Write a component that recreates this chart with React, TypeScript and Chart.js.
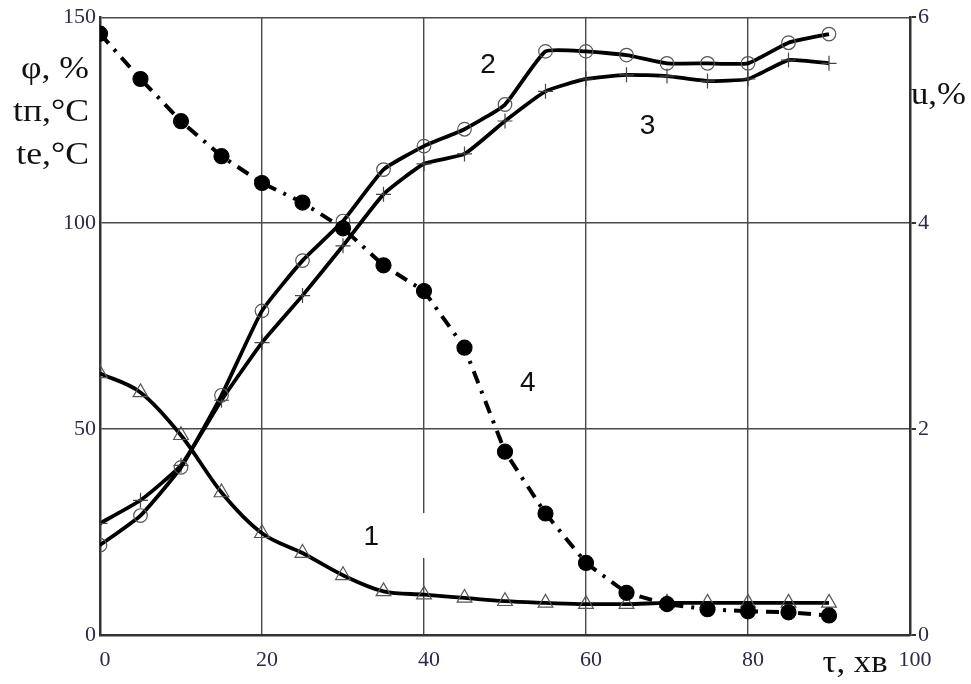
import React, { useEffect, useRef } from "react";
import { Chart, registerables } from "chart.js";

Chart.register(...registerables);

const tau = [0, 5, 10, 15, 20, 25, 30, 35, 40, 45, 50, 55, 60, 65, 70, 75, 80, 85, 90];
const phi = [63.5, 58.9, 48.5, 34.6, 24.7, 19.9, 14.5, 10.6, 9.8, 9, 8.2, 7.8, 7.5, 7.5, 7.8, 7.8, 7.8, 7.8, 7.8];
const tp = [21.8, 29, 40.7, 58.2, 78.7, 90.9, 100.5, 113, 118.7, 122.8, 128.8, 141.7, 141.7, 140.8, 138.8, 138.8, 138.8, 143.8, 145.9];
const te = [27.1, 32.7, 41.2, 57, 71, 82.4, 94.5, 107, 114.4, 116.8, 124.8, 132, 135, 136, 135.7, 134.5, 135, 139.6, 138.8];
const u = [5.84, 5.4, 4.99, 4.65, 4.39, 4.2, 3.95, 3.59, 3.34, 2.79, 1.78, 1.18, 0.7, 0.41, 0.3, 0.25, 0.23, 0.22, 0.19];

const xTicks = [0, 20, 40, 60, 80, 100];
const yTicks = [0, 50, 100, 150];
const y1Ticks = [0, 2, 4, 6];

const curveLabels = [
  { text: "1", x: 33.5, y: 23.7 },
  { text: "2", x: 47.9, y: 138.4 },
  { text: "3", x: 67.6, y: 123.4 },
  { text: "4", x: 52.8, y: 61.1 },
];

const leftTitles = ["φ, %", "tп,°C", "te,°C"];
const rightTitle = "u,%";
const bottomTitle = "τ, хв";

const tickColor = "#2b2b45";
const gridColor = "#4a4a4a";

function stretchedText(ctx: any, t: string, x: number, y: number, align: string, sx: number) {
  ctx.save();
  ctx.translate(x, y);
  ctx.scale(sx, 1);
  ctx.textAlign = align;
  ctx.fillText(t, 0, 0);
  ctx.restore();
}

const textPlugin = {
  id: "texts",
  beforeDatasetsDraw(chart: any) {
    const { ctx, scales } = chart;
    const x = scales.x.getPixelForValue(40);
    const yA = scales.y.getPixelForValue(29.6);
    const yB = scales.y.getPixelForValue(18.7);
    ctx.save();
    ctx.fillStyle = "#ffffff";
    ctx.fillRect(x - 2, yA, 4, yB - yA);
    ctx.restore();
  },
  afterDraw(chart: any) {
    const { ctx, scales } = chart;
    ctx.save();
    ctx.fillStyle = "#111";
    ctx.font = '28px "Liberation Sans"';
    ctx.textAlign = "center";
    ctx.textBaseline = "middle";
    curveLabels.forEach((l) => {
      ctx.fillText(l.text, scales.x.getPixelForValue(l.x), scales.y.getPixelForValue(l.y));
    });
    ctx.font = '31px "Liberation Serif"';
    const ys = [70, 113, 156];
    leftTitles.forEach((t, i) => stretchedText(ctx, t, 89, ys[i], "right", 1.15));
    stretchedText(ctx, rightTitle, 911, 96, "left", 1.12);
    stretchedText(ctx, bottomTitle, 855, 664, "center", 1.12);
    ctx.restore();
  },
};

export default function App() {
  const ref = useRef<HTMLCanvasElement | null>(null);
  useEffect(() => {
    if (!ref.current) return;
    const common = {
      borderColor: "#000",
      borderWidth: 3.8,
      pointBorderWidth: 1.2,
      pointHoverRadius: 0,
    };
    const chart = new Chart(ref.current, {
      type: "line",
      data: {
        labels: tau,
        datasets: [
          {
            ...common,
            label: "4",
            data: tau.map((t, i) => ({ x: t, y: u[i] })),
            yAxisID: "y1",
            borderDash: [13, 8, 3, 8],
            borderWidth: 4,
            tension: 0,
            pointStyle: "circle",
            pointRadius: 7.5,
            pointBackgroundColor: "#000",
            pointBorderColor: "#000",
          },
          {
            ...common,
            label: "1",
            data: tau.map((t, i) => ({ x: t, y: phi[i] })),
            yAxisID: "y",
            cubicInterpolationMode: "monotone",
            pointStyle: "triangle",
            pointRadius: 8.5,
            pointBackgroundColor: "rgba(0,0,0,0)",
            pointBorderColor: "#555",
          },
          {
            ...common,
            label: "2",
            data: tau.map((t, i) => ({ x: t, y: tp[i] })),
            yAxisID: "y",
            tension: 0.15,
            pointStyle: "circle",
            pointRadius: 6.8,
            pointBackgroundColor: "rgba(0,0,0,0)",
            pointBorderColor: "#555",
          },
          {
            ...common,
            label: "3",
            data: tau.map((t, i) => ({ x: t, y: te[i] })),
            yAxisID: "y",
            tension: 0.15,
            pointStyle: "cross",
            pointRadius: 7.5,
            pointBackgroundColor: "rgba(0,0,0,0)",
            pointBorderColor: "#444",
          },
        ],
      },
      options: {
        animation: false,
        responsive: false,
        events: [],
        layout: { padding: { top: 16, right: 0, left: 0, bottom: 0 } },
        plugins: { legend: { display: false }, tooltip: { enabled: false } },
        scales: {
          x: {
            type: "linear",
            min: 0,
            max: 100,
            afterBuildTicks: (s: any) => {
              s.ticks = xTicks.map((v) => ({ value: v }));
            },
            afterFit: (s: any) => {
              s.height = 49;
            },
            grid: { color: gridColor, lineWidth: 1.4, drawTicks: false },
            border: { color: "#333", width: 2.5 },
            ticks: {
              padding: 12,
              labelOffset: 5,
              color: tickColor,
              font: { family: "Liberation Serif", size: 22 },
            },
          },
          y: {
            type: "linear",
            position: "left",
            min: 0,
            max: 150,
            afterBuildTicks: (s: any) => {
              s.ticks = yTicks.map((v) => ({ value: v }));
            },
            afterFit: (s: any) => {
              s.width = 100;
            },
            grid: { color: gridColor, lineWidth: 1.4, drawTicks: false },
            border: { color: "#333", width: 2.5 },
            ticks: {
              padding: 4,
              color: tickColor,
              font: { family: "Liberation Serif", size: 22 },
            },
          },
          y1: {
            type: "linear",
            position: "right",
            min: 0,
            max: 6,
            afterBuildTicks: (s: any) => {
              s.ticks = y1Ticks.map((v) => ({ value: v }));
            },
            afterFit: (s: any) => {
              s.width = 61;
            },
            grid: { drawOnChartArea: false, drawTicks: true, tickLength: 6, color: "#333", lineWidth: 2 },
            border: { color: "#333", width: 2.5 },
            ticks: {
              padding: 2,
              color: tickColor,
              font: { family: "Liberation Serif", size: 22 },
            },
          },
        },
      } as any,
      plugins: [textPlugin],
    });
    return () => chart.destroy();
  }, []);
  return (
    <div style={{ position: "fixed", left: 0, top: 0, width: 971, height: 684, background: "#fff" }}>
      <canvas ref={ref} width={971} height={684} style={{ width: 971, height: 684 }} />
    </div>
  );
}
